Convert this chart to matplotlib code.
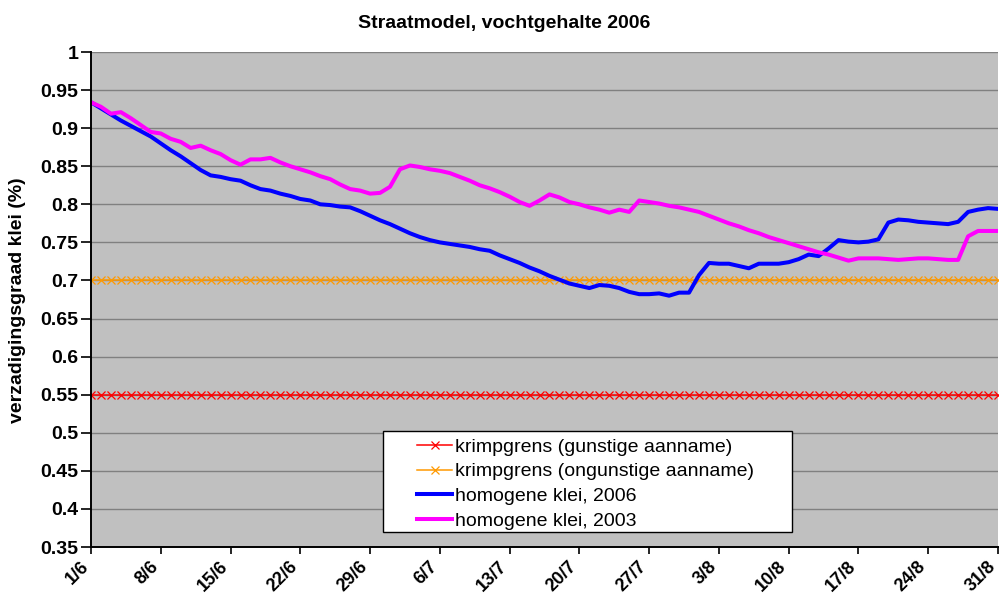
import matplotlib
matplotlib.use("Agg")
import matplotlib.pyplot as plt
import matplotlib.transforms as mtransforms
import numpy as np
from matplotlib.patches import Rectangle

plt.rcParams["font.family"] = ["Liberation Sans", "DejaVu Sans"]

# verzadigingsgraad per dag, 1 juni t/m 31 augustus
klei_2006 = [
    0.934, 0.926, 0.918, 0.910, 0.903, 0.896, 0.889, 0.880, 0.871, 0.863,
    0.854, 0.845, 0.838, 0.836, 0.833, 0.831, 0.825, 0.820, 0.818, 0.814,
    0.811, 0.807, 0.805, 0.800, 0.799, 0.797, 0.796, 0.791, 0.785, 0.779,
    0.774, 0.768, 0.762, 0.757, 0.753, 0.750, 0.748, 0.746, 0.744, 0.741,
    0.739, 0.733, 0.728, 0.723, 0.717, 0.712, 0.706, 0.701, 0.696, 0.693,
    0.690, 0.694, 0.693, 0.690, 0.685, 0.682, 0.682, 0.683, 0.680, 0.684,
    0.684, 0.707, 0.723, 0.722, 0.722, 0.719, 0.716, 0.722, 0.722, 0.722,
    0.724, 0.728, 0.734, 0.732, 0.742, 0.753, 0.751, 0.750, 0.751, 0.754,
    0.776, 0.780, 0.779, 0.777, 0.776, 0.775, 0.774, 0.777, 0.790, 0.793,
    0.795, 0.794,
]
klei_2003 = [
    0.934, 0.928, 0.919, 0.921, 0.913, 0.904, 0.895, 0.893, 0.886, 0.882,
    0.874, 0.877, 0.871, 0.866, 0.858, 0.852, 0.859, 0.859, 0.861, 0.855,
    0.850, 0.846, 0.842, 0.837, 0.833, 0.826, 0.820, 0.818, 0.814, 0.815,
    0.823, 0.846, 0.851, 0.849, 0.846, 0.844, 0.841, 0.836, 0.831, 0.825,
    0.821, 0.816, 0.810, 0.803, 0.798, 0.805, 0.813, 0.809, 0.803, 0.800,
    0.796, 0.793, 0.789, 0.793, 0.790, 0.805, 0.803, 0.801, 0.798, 0.796,
    0.793, 0.790, 0.785, 0.780, 0.775, 0.771, 0.766, 0.762, 0.757, 0.753,
    0.749, 0.745, 0.741, 0.737, 0.734, 0.730, 0.726, 0.729, 0.729, 0.729,
    0.728, 0.727, 0.728, 0.729, 0.729, 0.728, 0.727, 0.727, 0.758, 0.765,
    0.765, 0.765,
]
krimpgrens_gunstig = 0.55
krimpgrens_ongunstig = 0.70

tick_labels = ["1/6", "8/6", "15/6", "22/6", "29/6", "6/7", "13/7",
               "20/7", "27/7", "3/8", "10/8", "17/8", "24/8", "31/8"]

dagen = np.arange(len(klei_2006))

fig = plt.figure(figsize=(9.99, 5.95), dpi=100)
ax = fig.add_axes([91 / 999, 1 - 547 / 595, 907 / 999, 495 / 595])
ax.set_facecolor("#C0C0C0")

ax.plot(dagen, np.full(len(dagen), krimpgrens_gunstig), color="#FF0000",
        lw=1.1, marker="x", ms=5.5, mew=0.9,
        label="krimpgrens (gunstige aanname)")
ax.plot(dagen, np.full(len(dagen), krimpgrens_ongunstig), color="#FF9900",
        lw=1.1, marker="x", ms=5.5, mew=0.9,
        label="krimpgrens (ongunstige aanname)")
ax.plot(dagen, klei_2006, color="#0000FF", lw=2.9,
        label="homogene klei, 2006")
ax.plot(dagen, klei_2003, color="#FF00FF", lw=2.9,
        label="homogene klei, 2003")

ax.set_xlim(0, len(dagen) - 1)
ax.set_ylim(0.35, 1.0)
ax.set_yticks(np.arange(0.35, 1.001, 0.05))
ax.set_yticklabels(["0.35", "0.4", "0.45", "0.5", "0.55", "0.6", "0.65",
                    "0.7", "0.75", "0.8", "0.85", "0.9", "0.95", "1"],
                   fontsize=14, fontweight="bold")
ax.set_xticks(np.arange(0, len(dagen), 7))
ax.set_xticklabels(tick_labels, fontsize=13, fontweight="bold",
                   rotation=45, ha="right", va="center",
                   rotation_mode="anchor")

ax.grid(axis="y", color="#808080", lw=1.0)
ax.set_axisbelow(True)
ax.tick_params(axis="y", direction="out", length=7, width=1.2, pad=2)
ax.tick_params(axis="x", direction="out", length=5, width=1.2, pad=7)
for side in ("top", "right"):
    ax.spines[side].set_visible(False)
for side in ("left", "bottom"):
    ax.spines[side].set_linewidth(1.4)
    ax.spines[side].set_color("black")

# labels een paar pixels naar links, zodat 31/8 binnen de rand blijft
# (na tick_params, dat de transform anders weer terugzet)
shift = mtransforms.ScaledTranslation(-5 / 100, 0, fig.dpi_scale_trans)
for tick in ax.xaxis.get_major_ticks():
    tick.label1.set_transform(tick.label1.get_transform() + shift)

fig.text(0.5045, 1 - 23 / 595, "Straatmodel, vochtgehalte 2006",
         fontsize=14, fontweight="bold", ha="center", va="center")
fig.text(18 / 999, 1 - 300 / 595, "verzadigingsgraad klei (%)",
         fontsize=14, fontweight="bold", rotation=90,
         ha="center", va="center")

# legendakader met ruime marge links en rechts
kader = Rectangle((292 / 907, 15 / 495), 409 / 907, 101 / 495,
                  transform=ax.transAxes, facecolor="white",
                  edgecolor="black", lw=1.0, zorder=4.5)
ax.add_patch(kader)
leg = ax.legend(loc="center left", bbox_to_anchor=(326 / 907, 63 / 495),
                borderaxespad=0, borderpad=0, fontsize=14, frameon=False,
                handlelength=1.8, handletextpad=0.15, labelspacing=0.37,
                numpoints=1)
leg.set_zorder(5)

fig.savefig("out.png", dpi=100)
